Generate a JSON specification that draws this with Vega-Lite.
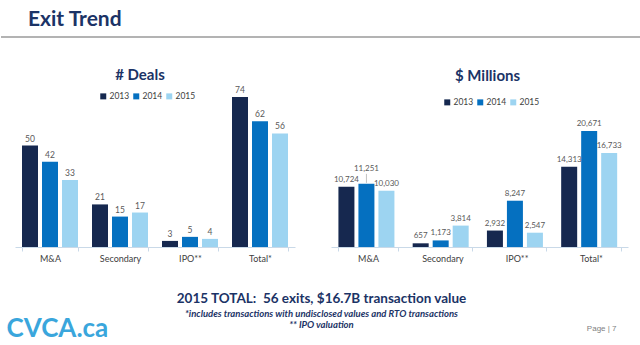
{
  "$schema": "https://vega.github.io/schema/vega-lite/v6.json",
  "padding": 0,
  "background": "white",
  "config": {
    "view": {"stroke": null},
    "font": "Lato",
    "legend": {"orient": "none", "direction": "horizontal", "symbolType": "square", "symbolSize": 36, "symbolStrokeWidth": 0, "labelFontSize": 8.5, "labelColor": "#404040", "labelFont": "Lato", "columnPadding": 2, "labelOffset": 2, "padding": 0, "title": null},
    "axisX": {"domainColor": "#c9d9e8", "tickColor": "#c9d9e8", "tickBand": "extent", "tickSize": 4, "labelFontSize": 9, "labelColor": "#404040", "labelPadding": 3, "labelAngle": 0, "title": null, "labelFont": "Lato"}
  },
  "vconcat": [
    {
      "width": 640,
      "height": 37,
      "layer": [
        {
          "data": {"values": [{"v": 0}]},
          "mark": {"type": "rule", "color": "#b3b3b3", "strokeWidth": 2},
          "encoding": {"y": {"field": "v", "type": "quantitative", "axis": null, "scale": {"domain": [0, 1]}}}
        },
        {
          "data": {"values": [{"slot": "left", "text": "Exit Trend"}]},
          "mark": {"type": "text", "align": "left", "dx": 27, "dy": 1, "fontSize": 21, "fontWeight": "bold", "color": "#1b3366", "font": "Lato"},
          "encoding": {
            "x": {"field": "slot", "type": "nominal", "axis": null, "scale": {"type": "point", "domain": ["left", "right"], "padding": 0}},
            "text": {"field": "text", "type": "nominal"}
          }
        }
      ]
    },
    {
      "spacing": 36,
      "resolve": {"scale": {"x": "independent", "y": "independent", "color": "independent"}, "legend": {"color": "independent"}},
      "hconcat": [
        {
          "width": 280,
          "height": 160,
          "title": {"text": "# Deals", "fontSize": 15, "fontWeight": "bold", "color": "#1b3366", "font": "Lato", "dx": -15, "offset": 3},
          "data": {"values": [
            {"category": "M&A", "year": "2013", "deals": 50},
            {"category": "M&A", "year": "2014", "deals": 42},
            {"category": "M&A", "year": "2015", "deals": 33},
            {"category": "Secondary", "year": "2013", "deals": 21},
            {"category": "Secondary", "year": "2014", "deals": 15},
            {"category": "Secondary", "year": "2015", "deals": 17},
            {"category": "IPO**", "year": "2013", "deals": 3},
            {"category": "IPO**", "year": "2014", "deals": 5},
            {"category": "IPO**", "year": "2015", "deals": 4},
            {"category": "Total*", "year": "2013", "deals": 74},
            {"category": "Total*", "year": "2014", "deals": 62},
            {"category": "Total*", "year": "2015", "deals": 56}
          ]},
          "encoding": {
            "x": {"field": "category", "type": "nominal", "sort": ["M&A", "Secondary", "IPO**", "Total*"], "scale": {"paddingInner": 0.2, "paddingOuter": 0.1}},
            "xOffset": {"field": "year", "type": "nominal", "scale": {"paddingInner": 0.2, "paddingOuter": 0}},
            "y": {"field": "deals", "type": "quantitative", "axis": null, "scale": {"domain": [0, 78.9], "nice": false}}
          },
          "layer": [
            {
              "mark": {"type": "bar"},
              "encoding": {"color": {"field": "year", "type": "nominal", "scale": {"domain": ["2013", "2014", "2015"], "range": ["#16284f", "#0570c0", "#9dd4f1"]}, "legend": {"legendX": 84, "legendY": 5}}}
            },
            {
              "mark": {"type": "text", "dy": -7, "fontSize": 8.5, "color": "#595959", "font": "Lato"},
              "encoding": {"text": {"field": "deals", "type": "quantitative"}}
            }
          ]
        },
        {
          "width": 297,
          "height": 160,
          "title": {"text": "$ Millions", "fontSize": 15, "fontWeight": "bold", "color": "#1b3366", "font": "Lato", "dx": 8, "offset": 3},
          "data": {"values": [
            {"category": "M&A", "year": "2013", "value": 10724},
            {"category": "M&A", "year": "2014", "value": 11251},
            {"category": "M&A", "year": "2015", "value": 10030},
            {"category": "Secondary", "year": "2013", "value": 657},
            {"category": "Secondary", "year": "2014", "value": 1173},
            {"category": "Secondary", "year": "2015", "value": 3814},
            {"category": "IPO**", "year": "2013", "value": 2932},
            {"category": "IPO**", "year": "2014", "value": 8247},
            {"category": "IPO**", "year": "2015", "value": 2547},
            {"category": "Total*", "year": "2013", "value": 14313},
            {"category": "Total*", "year": "2014", "value": 20671},
            {"category": "Total*", "year": "2015", "value": 16733}
          ]},
          "encoding": {
            "x": {"field": "category", "type": "nominal", "sort": ["M&A", "Secondary", "IPO**", "Total*"], "scale": {"paddingInner": 0.2, "paddingOuter": 0.1}},
            "xOffset": {"field": "year", "type": "nominal", "scale": {"paddingInner": 0.2, "paddingOuter": 0}},
            "y": {"field": "value", "type": "quantitative", "axis": null, "scale": {"domain": [0, 28512], "nice": false}}
          },
          "layer": [
            {
              "mark": {"type": "bar"},
              "encoding": {"color": {"field": "year", "type": "nominal", "scale": {"domain": ["2013", "2014", "2015"], "range": ["#16284f", "#0570c0", "#9dd4f1"]}, "legend": {"legendX": 112, "legendY": 11}}}
            },
            {
              "transform": [{"filter": "!(datum.category == 'M&A' && datum.year == '2014')"}],
              "mark": {"type": "text", "dy": -7, "fontSize": 8, "color": "#595959", "font": "Lato"},
              "encoding": {"text": {"field": "value", "type": "quantitative", "format": ","}}
            },
            {
              "transform": [{"filter": "datum.category == 'M&A' && datum.year == '2014'"}],
              "mark": {"type": "text", "dy": -15, "fontSize": 8, "color": "#595959", "font": "Lato"},
              "encoding": {"text": {"field": "value", "type": "quantitative", "format": ","}}
            },
            {
              "transform": [{"filter": "datum.category == 'M&A' && datum.year == '2014'"}],
              "mark": {"type": "rule", "color": "#a6a6a6", "strokeWidth": 0.7, "yOffset": -1, "y2Offset": -10},
              "encoding": {"y2": {"field": "value"}}
            }
          ]
        }
      ]
    },
    {
      "width": 640,
      "height": 40,
      "data": {"values": [
        {"slot": "logo", "role": "logo", "text": "CVCA.ca"},
        {"slot": "center", "role": "headline", "text": "2015 TOTAL:\u00a0 56 exits, $16.7B transaction value"},
        {"slot": "center", "role": "note1", "text": "*includes transactions with undisclosed values and RTO transactions"},
        {"slot": "center", "role": "note2", "text": "** IPO valuation"},
        {"slot": "page", "role": "page", "text": "Page | 7"}
      ]},
      "encoding": {
        "x": {"field": "slot", "type": "nominal", "axis": null, "scale": {"type": "point", "domain": ["logo", "center", "page"], "padding": 0}},
        "text": {"field": "text", "type": "nominal"}
      },
      "layer": [
        {"transform": [{"filter": "datum.role == 'headline'"}], "mark": {"type": "text", "dy": -18, "fontSize": 13.5, "fontWeight": "bold", "color": "#1b3366", "font": "Lato"}},
        {"transform": [{"filter": "datum.role == 'note1'"}], "mark": {"type": "text", "dy": -3, "fontSize": 9.5, "fontWeight": "bold", "fontStyle": "italic", "color": "#1b3366", "font": "Lato"}},
        {"transform": [{"filter": "datum.role == 'note2'"}], "mark": {"type": "text", "dy": 8, "fontSize": 9.5, "fontWeight": "bold", "fontStyle": "italic", "color": "#1b3366", "font": "Lato"}},
        {"transform": [{"filter": "datum.role == 'page'"}], "mark": {"type": "text", "dy": 12, "dx": -25, "align": "right", "fontSize": 8, "color": "#7f7f7f", "font": "Liberation Sans"}},
        {"transform": [{"filter": "datum.role == 'logo'"}], "mark": {"type": "text", "dy": 12, "dx": 5, "align": "left", "fontSize": 26, "fontWeight": "bold", "color": "#3aa6dc", "font": "Lato"}}
      ]
    }
  ],
  "center": true,
  "spacing": 29
}
